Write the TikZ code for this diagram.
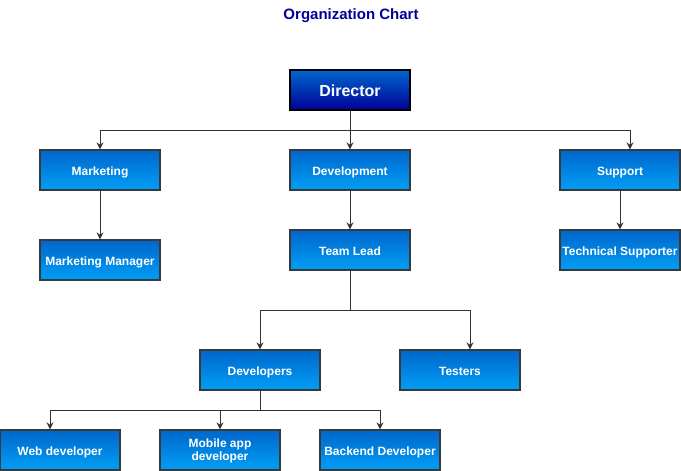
\documentclass[tikz,border=0pt]{standalone}
\usepackage{fontspec}
\setmainfont{Liberation Sans}
\usetikzlibrary{arrows.meta}
\definecolor{boxtop}{HTML}{0066CC}
\definecolor{boxbot}{HTML}{009FF5}
\definecolor{boxline}{HTML}{36393D}
\definecolor{dirbot}{HTML}{000099}
\definecolor{titleblue}{HTML}{000099}

\begin{document}
\begin{tikzpicture}[x=1pt, y=-1pt,
    unit/.style={draw=boxline, line width=1.2pt, top color=boxtop, bottom color=boxbot,
      minimum width=120pt, minimum height=40pt, inner sep=1pt, text=white,
      font=\fontsize{12}{13}\selectfont\bfseries, align=center},
    oneline/.style={unit, text height=12pt, text depth=2pt},
    boss/.style={unit, draw=black, line width=2pt, bottom color=dirbot,
      font=\fontsize{16}{18}\selectfont\bfseries, text height=13.5pt, text depth=1.5pt},
    link/.style={draw=black!80, line width=0.9pt, -{Stealth[length=7pt,width=7pt]}},
    trunk/.style={draw=black!80, line width=0.9pt}]
      \useasboundingbox (0,0) rectangle (681,471);

      \node[font=\fontsize{15}{17}\selectfont\bfseries, text=titleblue] (title) at (351,16) {Organization Chart};

      \node[boss] (dir) at (350,90) {Director};

      \node[oneline] (mkt) at (100,170) {Marketing};
      \node[oneline] (dev) at (350,170) {Development};
      \node[oneline] (sup) at (620,170) {Support};

      \node[oneline] (mktman) at (100,260) {Marketing Manager};
      \node[oneline] (lead) at (350,250) {Team Lead};
      \node[oneline] (tech) at (620,250) {Technical Supporter};

      \node[oneline] (devs) at (260,370) {Developers};
      \node[oneline] (test) at (460,370) {Testers};

      \node[oneline] (web) at (60,450) {Web developer};
      \node[unit, text depth=0pt] (mob) at (220,450) {Mobile app\\developer};
      \node[oneline] (back) at (380,450) {Backend Developer};

      % branching points
      \coordinate (dirfork) at (350,130);
      \coordinate (leadfork) at (350,310);
      \coordinate (devsfork) at (260,410);

      \draw[trunk] (dir) -- (dirfork);
      \draw[link] (dirfork) -| (mkt);
      \draw[link] (dirfork) -- (dev);
      \draw[link] (dirfork) -| (sup.north -| 630,0);

      \draw[link] (mkt) -- (mktman);
      \draw[link] (dev) -- (lead);
      \draw[link] (sup) -- (tech);

      \draw[trunk] (lead) -- (leadfork);
      \draw[link] (leadfork) -| (devs);
      \draw[link] (leadfork) -| (test.north -| 470,0);

      \draw[trunk] (devs) -- (devsfork);
      \draw[link] (devsfork) -| (web.north -| 50,0);
      \draw[link] (devsfork) -| (mob);
      \draw[link] (devsfork) -| (back);
\end{tikzpicture}
\end{document}
